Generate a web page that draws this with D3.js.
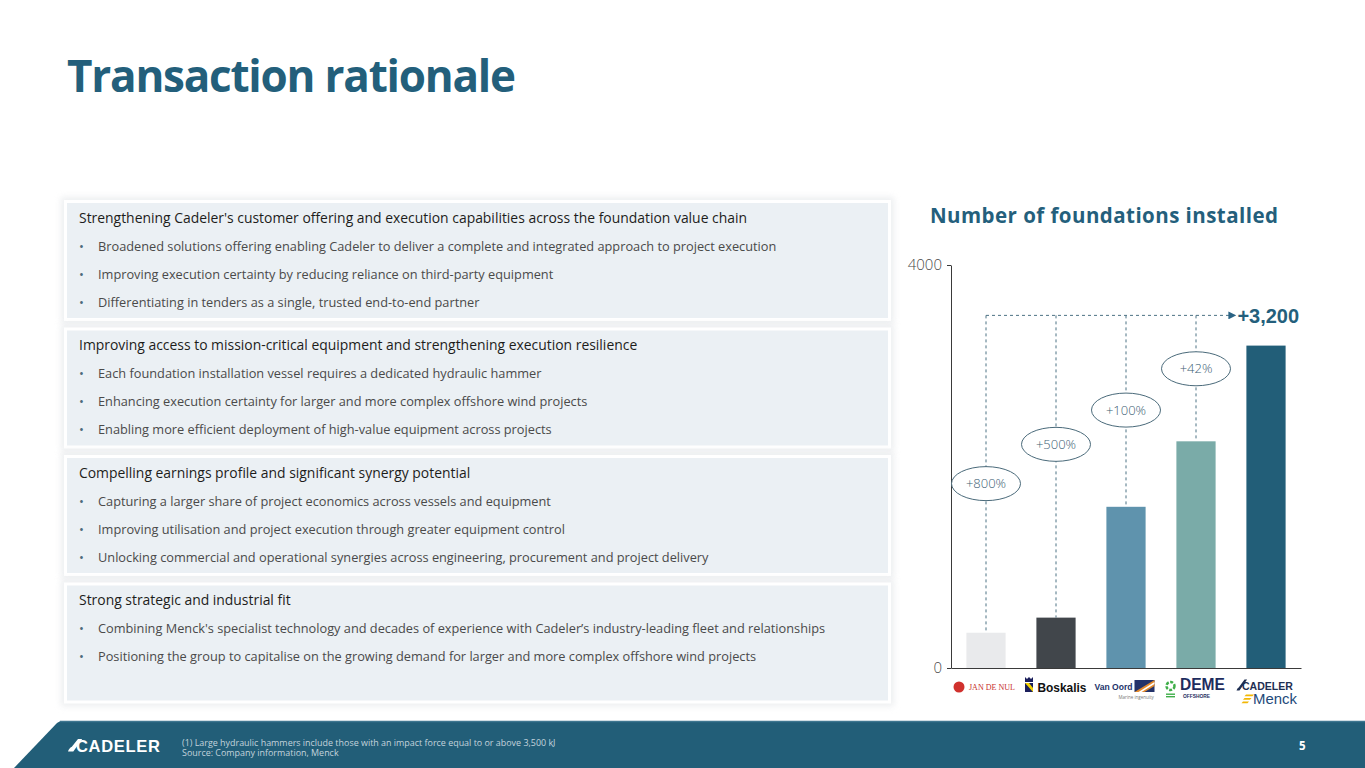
<!DOCTYPE html>
<html>
<head>
<meta charset="utf-8">
<script src="https://cdn.jsdelivr.net/npm/d3@7"></script>
<style>
  body { margin: 0; background: #fff; }
  svg { display: block; }
</style>
</head>
<body>
<div id="chart"></div>
<script>
// ---- data ----
const companies = ["Jan De Nul", "Boskalis", "Van Oord", "DEME", "Cadeler + Menck"];
const foundations = [350, 500, 1600, 2250, 3200];
const growthLabels = ["+800%", "+500%", "+100%", "+42%"];
const calloutAt = [1830, 2220, 2560, 2970]; // value level of each growth bubble
const bracketLevel = 3500;
const totalLabel = "+3,200";
const yTicks = [0, 4000];

const headings = [
  "Strengthening Cadeler's customer offering and execution capabilities across the foundation value chain",
  "Improving access to mission-critical equipment and strengthening execution resilience",
  "Compelling earnings profile and significant synergy potential",
  "Strong strategic and industrial fit"
];
const bullets = [
  [
    "Broadened solutions offering enabling Cadeler to deliver a complete and integrated approach to project execution",
    "Improving execution certainty by reducing reliance on third-party equipment",
    "Differentiating in tenders as a single, trusted end-to-end partner"
  ],
  [
    "Each foundation installation vessel requires a dedicated hydraulic hammer",
    "Enhancing execution certainty for larger and more complex offshore wind projects",
    "Enabling more efficient deployment of high-value equipment across projects"
  ],
  [
    "Capturing a larger share of project economics across vessels and equipment",
    "Improving utilisation and project execution through greater equipment control",
    "Unlocking commercial and operational synergies across engineering, procurement and project delivery"
  ],
  [
    "Combining Menck's specialist technology and decades of experience with Cadeler\u2019s industry-leading fleet and relationships",
    "Positioning the group to capitalise on the growing demand for larger and more complex offshore wind projects"
  ]
];
const footnotes = [
  "(1) Large hydraulic hammers include those with an impact force equal to or above 3,500 kJ",
  "Source: Company information, Menck"
];

const barColors = ["#e9eaec", "#41464b", "#5f93ad", "#7aaba8", "#225e78"];
const teal = "#225e78";
const body = "'Open Sans', 'Noto Sans', sans-serif";
const arial = "'Liberation Sans', Arial, sans-serif";

const width = 1365;
const height = 768;

const svg = d3.select("#chart").append("svg")
  .attr("width", width)
  .attr("height", height);

const defs = svg.append("defs");
defs.append("filter").attr("id", "halo")
  .attr("x", "-5%").attr("y", "-20%").attr("width", "110%").attr("height", "140%")
  .append("feGaussianBlur").attr("stdDeviation", 3);
defs.append("marker").attr("id", "arrow")
  .attr("viewBox", "0 0 10 10").attr("refX", 10).attr("refY", 5)
  .attr("markerWidth", 8).attr("markerHeight", 8).attr("markerUnits", "userSpaceOnUse")
  .attr("orient", "auto")
  .append("path").attr("d", "M0,0L10,5L0,10Z").attr("fill", "#2a6384");

// width fitting helpers (the slide font is not installed)
function fitSpacing(sel, target) {
  const w = sel.node().getComputedTextLength();
  const n = sel.text().length;
  sel.attr("letter-spacing", (target - w) / (n - 1));
}
function fitSize(sel, target) {
  const w = sel.node().getComputedTextLength();
  return parseFloat(sel.attr("font-size")) * target / w;
}
function fitText(sel, target) {
  sel.attr("font-size", fitSize(sel, target));
}

// ---- title ----
const title = svg.append("text")
  .attr("x", 67).attr("y", 92)
  .attr("font-family", body).attr("font-weight", 700).attr("font-size", 44)
  .attr("fill", "#235f7b")
  .text("Transaction rationale");
fitSpacing(title, 449);

// ---- text boxes ----
const boxX = 67, boxW = 821, boxH = 115, boxStep = 127.5, boxTop = 203;
const boxes = svg.append("g").selectAll("g").data(headings).join("g")
  .attr("transform", (d, i) => `translate(${boxX},${boxTop + i * boxStep})`);

boxes.append("rect")
  .attr("x", -6).attr("y", -6).attr("width", boxW + 12).attr("height", boxH + 12)
  .attr("fill", "#dfe2e5").attr("opacity", 0.55).attr("filter", "url(#halo)");
boxes.append("rect")
  .attr("x", -3).attr("y", -3).attr("width", boxW + 6).attr("height", boxH + 6)
  .attr("fill", "#fff");
boxes.append("rect")
  .attr("width", boxW).attr("height", boxH)
  .attr("fill", "#ebf0f4");

const headText = boxes.append("text")
  .attr("x", 12).attr("y", 19.5)
  .attr("font-family", body).attr("font-size", 14.5)
  .attr("fill", "#1d1d1b")
  .text(d => d);
const headSize = fitSize(d3.select(headText.nodes()[0]), 669);
headText.attr("font-size", headSize);

const bulletRows = boxes.selectAll("g.b")
  .data((d, i) => bullets[i])
  .join("g").attr("class", "b")
  .attr("transform", (d, j) => `translate(0,${47.5 + j * 28})`);
bulletRows.append("text")
  .attr("x", 12).attr("y", 0)
  .attr("font-family", body).attr("font-size", 13)
  .attr("fill", "#4d6a7a")
  .text("\u2022");
const bulletText = bulletRows.append("text")
  .attr("x", 31).attr("y", 0)
  .attr("font-family", body).attr("font-size", 13)
  .attr("fill", "#4a4a4a")
  .text(d => d);
const bulletSize = fitSize(d3.select(bulletText.nodes()[0]), 679);
bulletText.attr("font-size", bulletSize);

// ---- chart ----
const x = d3.scaleBand()
  .domain(companies)
  .range([951, 1301])
  .paddingInner(0.44)
  .paddingOuter(0.22);
const y = d3.scaleLinear()
  .domain([0, 4000])
  .range([668, 265]);
const cx = d => x(d) + x.bandwidth() / 2;

const chartTitle = svg.append("text")
  .attr("x", 930).attr("y", 222.5)
  .attr("font-family", body).attr("font-weight", 700).attr("font-size", 20.5)
  .attr("fill", "#245f7c")
  .text("Number of foundations installed");
fitSpacing(chartTitle, 348);

const yAxis = svg.append("g")
  .attr("transform", "translate(951,0)")
  .call(d3.axisLeft(y).tickValues(yTicks).tickSize(4).tickSizeOuter(0).tickPadding(5)
    .tickFormat(d3.format("d")));
yAxis.select(".domain").attr("stroke", "#3a3a3a");
yAxis.selectAll(".tick line").attr("stroke", "#3a3a3a");
yAxis.selectAll(".tick text")
  .attr("font-family", body).attr("font-weight", 300).attr("font-size", 15)
  .attr("fill", "#4a4a4a");

svg.selectAll("rect.bar").data(foundations).join("rect")
  .attr("class", "bar")
  .attr("x", (d, i) => x(companies[i]))
  .attr("y", d => y(d))
  .attr("width", x.bandwidth())
  .attr("height", d => y(0) - y(d))
  .attr("fill", (d, i) => barColors[i]);

const xAxis = svg.append("g")
  .attr("transform", `translate(0,${y(0)})`)
  .call(d3.axisBottom(x).tickSize(0).tickSizeOuter(0).tickFormat(""));
xAxis.select(".domain").attr("stroke", "#3a3a3a");

// bracket with dashed connectors
const dash = { stroke: "#4d7284", width: 1, array: "3,3" };
const connectors = svg.append("g");
connectors.selectAll("line.v").data(foundations.slice(0, 4)).join("line")
  .attr("class", "v")
  .attr("x1", (d, i) => cx(companies[i])).attr("x2", (d, i) => cx(companies[i]))
  .attr("y1", y(bracketLevel)).attr("y2", d => y(d))
  .attr("stroke", dash.stroke).attr("stroke-width", dash.width).attr("stroke-dasharray", dash.array);
connectors.append("line")
  .attr("x1", cx(companies[0])).attr("x2", x(companies[4]) - 10)
  .attr("y1", y(bracketLevel)).attr("y2", y(bracketLevel))
  .attr("stroke", dash.stroke).attr("stroke-width", dash.width).attr("stroke-dasharray", dash.array)
  .attr("marker-end", "url(#arrow)");
svg.append("text")
  .attr("x", x(companies[4]) - 9).attr("y", y(bracketLevel) + 7.5)
  .attr("font-family", arial).attr("font-weight", 700).attr("font-size", 20)
  .attr("fill", "#245f7c")
  .text(totalLabel);

const bubbles = svg.append("g").selectAll("g").data(growthLabels).join("g")
  .attr("transform", (d, i) => `translate(${cx(companies[i])},${y(calloutAt[i])})`);
bubbles.append("ellipse")
  .attr("rx", 34.5).attr("ry", 17)
  .attr("fill", "#fff").attr("stroke", "#4a6a7a").attr("stroke-width", 1);
bubbles.append("text")
  .attr("text-anchor", "middle").attr("dy", "0.35em")
  .attr("font-family", body).attr("font-weight", 300).attr("font-size", 13)
  .attr("fill", "#3c6073")
  .text(d => d);

// company logos under the axis, drawn as simple wordmarks
const logoY = 690;
const logos = svg.append("g").selectAll("g").data(companies).join("g")
  .attr("transform", d => `translate(${cx(d)},0)`);

logos.filter((d, i) => i === 0).call(g => {
  g.append("circle").attr("cx", -27).attr("cy", 687).attr("r", 5.5).attr("fill", "#d0312d");
  g.append("text").attr("x", -17).attr("y", logoY)
    .attr("font-family", "'Liberation Serif', serif").attr("font-size", 9.5)
    .attr("fill", "#c8302c").text("JAN DE NUL")
    .call(fitText, 46);
});
logos.filter((d, i) => i === 1).call(g => {
  g.append("path").attr("d", "M-31,677l2,2l2,-2l2,2l2,-2v5h-8Z").attr("fill", "#1b1f5c");
  g.append("rect").attr("x", -31).attr("y", 683).attr("width", 8).attr("height", 9).attr("fill", "#1b1f5c");
  g.append("path").attr("d", "M-31,683h4l4,5v4Z").attr("fill", "#f5d300");
  g.append("text").attr("x", -18.5).attr("y", 692)
    .attr("font-family", arial).attr("font-weight", 700).attr("font-size", 12.2)
    .attr("fill", "#111").text("Boskalis")
    .call(fitText, 49);
});
logos.filter((d, i) => i === 2).call(g => {
  g.append("text").attr("x", -31.5).attr("y", logoY)
    .attr("font-family", arial).attr("font-weight", 700).attr("font-size", 9)
    .attr("fill", "#23336a").text("Van Oord")
    .call(fitText, 38);
  g.append("rect").attr("x", 8.5).attr("y", 680).attr("width", 20).attr("height", 12).attr("fill", "#23336a");
  g.append("path").attr("d", "M8.5,692L28.5,680V686L18.5,692Z").attr("fill", "#e48a2c");
  g.append("path").attr("d", "M12.5,692L28.5,682V684L15.5,692Z").attr("fill", "#fff");
  g.append("text").attr("x", -7.5).attr("y", 698.5)
    .attr("font-family", body).attr("font-size", 4.5)
    .attr("fill", "#777").text("Marine ingenuity");
});
logos.filter((d, i) => i === 3).call(g => {
  g.append("circle").attr("cx", -25.5).attr("cy", 686).attr("r", 4)
    .attr("fill", "none").attr("stroke", "#3fae49").attr("stroke-width", 2.5).attr("stroke-dasharray", "3,1.5");
  [693.5, 696].forEach(v => g.append("rect").attr("x", -30).attr("y", v)
    .attr("width", 9).attr("height", 1.4).attr("fill", "#3fae49"));
  g.append("text").attr("x", -16).attr("y", logoY)
    .attr("font-family", arial).attr("font-weight", 700).attr("font-size", 15)
    .attr("fill", "#1e2c5e").text("DEME")
    .call(fitText, 45);
  g.append("text").attr("x", -13).attr("y", 698)
    .attr("font-family", arial).attr("font-weight", 700).attr("font-size", 5.5)
    .attr("fill", "#1e2c5e").text("OFFSHORE")
    .call(fitText, 27);
});
logos.filter((d, i) => i === 4).call(g => {
  g.append("path").attr("d", "M-29.5,690.5L-21.5,679.5h2.6L-26.5,690.5Z M-29.5,690.5c1,-3 3,-4 5,-4l-1,2c-1.5,0 -2.5,1 -3,2Z")
    .attr("fill", "#1f2f52");
  g.append("text").attr("x", -24).attr("y", logoY)
    .attr("font-family", arial).attr("font-weight", 700).attr("font-size", 11.5)
    .attr("fill", "#1f2f52").text("CADELER")
    .call(fitText, 51);
  [694.5, 698, 701.5].forEach((v, k) => g.append("path")
    .attr("d", `M${-20 + k * -1.5},${v}h${8 - k}l-1.5,1.8h${-(8 - k)}Z`)
    .attr("fill", "#f2b705"));
  g.append("text").attr("x", -13).attr("y", 703.5)
    .attr("font-family", arial).attr("font-size", 14)
    .attr("fill", "#1e4a7a").text("Menck")
    .call(fitText, 44);
});

// ---- footer ----
svg.append("path")
  .attr("d", `M14,${height}L57,723Q59,721 63,721H${width}V${height}Z`)
  .attr("fill", teal);
svg.append("line")
  .attr("x1", 60).attr("x2", width).attr("y1", 721.5).attr("y2", 721.5)
  .attr("stroke", "#3e7690").attr("stroke-width", 1.5);

svg.append("path")
  .attr("d", "M68,751.5L78,739h4.2L73.3,751.5Z M68,751.5c1.5,-4 4,-5.5 7,-5.5l-1.3,2.5c-2,0 -3.2,1.3 -3.8,3Z")
  .attr("fill", "#fff");
const footLogo = svg.append("text")
  .attr("x", 76).attr("y", 751.5)
  .attr("font-family", arial).attr("font-weight", 700).attr("font-size", 16.5)
  .attr("fill", "#fff")
  .text("CADELER");
fitSpacing(footLogo, 84);

const notes = svg.append("g").selectAll("text").data(footnotes).join("text")
  .attr("x", 182).attr("y", (d, i) => 745.5 + i * 10.5)
  .attr("font-family", body).attr("font-size", 8.6)
  .attr("fill", "#c3d3dc")
  .text(d => d);
notes.attr("font-size", fitSize(d3.select(notes.nodes()[0]), 374));

svg.append("text")
  .attr("x", 1299).attr("y", 749.5)
  .attr("font-family", body).attr("font-weight", 700).attr("font-size", 11.5)
  .attr("fill", "#fff")
  .text("5");
</script>
</body>
</html>
